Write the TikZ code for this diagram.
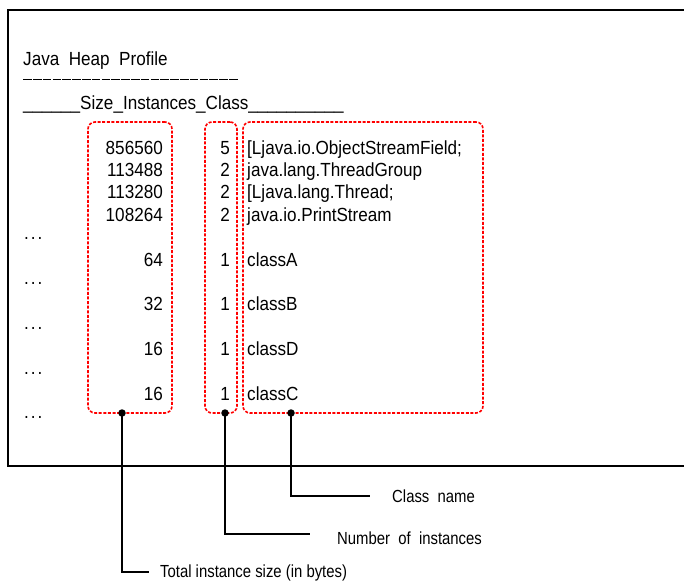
\documentclass[tikz,border=0pt]{standalone}
\usepackage{fontspec}
\setmainfont{Liberation Sans}
\newfontfamily\gfont[FakeStretch=0.9]{Liberation Sans}
\newfontfamily\lfont[FakeStretch=0.85]{Liberation Sans}
\begin{document}
\begin{tikzpicture}[x=1pt,y=-1pt,
  txt/.style={inner sep=0pt,font=\gfont\fontsize{19}{22}\selectfont},
  num/.style={txt,anchor=base east},
  cls/.style={txt,anchor=base west},
  lbl/.style={inner sep=0pt,anchor=west,font=\lfont\fontsize{17.5}{20}\selectfont},
  redbox/.style={draw=red,line width=1.6pt,dash pattern=on 3pt off 1.6pt,rounded corners=7pt,inner sep=0pt},
  frame/.style={line width=1.6pt},
  leader/.style={line width=1.5pt},
  pin/.style={circle,fill=black,inner sep=0pt,minimum size=7.5pt}]
\useasboundingbox (0,0) rectangle (684,583);
\fill[white] (0,0) rectangle (684,583);
% outer frame (open on the right)
\draw[frame] (700,10) -- (8,10) -- (8,466) -- (700,466);
% header texts
\node[cls] (title) at (23,65.5) {Java\ \ Heap\ \ Profile};
\node[inner sep=0pt,anchor=west] (rule) at (23,80) {\foreach \i in {1,...,22}{\rule[0pt]{8.6pt}{1pt}\kern1.2pt}};
\node[cls] (head) at (23,110) {\_\_\_\_\_\_Size\_Instances\_Class\_\_\_\_\_\_\_\_\_\_};
% rows
\foreach \s/\n/\c/\y [count=\k] in {856560/5/{[Ljava.io.ObjectStreamField;}/154,
  113488/2/java.lang.ThreadGroup/176,113280/2/{[Ljava.lang.Thread;}/198,108264/2/java.io.PrintStream/221,
  64/1/classA/266,32/1/classB/310,16/1/classD/355,16/1/classC/400}{
  \node[num] (s\k) at (163,\y) {\s};
  \node[num] (n\k) at (230,\y) {\n};
  \node[cls] (c\k) at (247,\y) {\c};
}
\foreach \y [count=\k] in {239,284,329,374,418}{
  \node[cls] (dots\k) at (24,\y) {.\kern2pt.\kern2pt.};
}
% red dashed boxes
\node[redbox,minimum width=84pt,minimum height=291pt] (sizebox) at (130,267.5) {};
\node[redbox,minimum width=32pt,minimum height=291pt] (numbox) at (221,267.5) {};
\node[redbox,minimum width=240pt,minimum height=291pt] (clsbox) at (363,267.5) {};
% pins
\node[pin] (p1) at (122,413) {};
\node[pin] (p2) at (225,413) {};
\node[pin] (p3) at (291,413) {};
% labels
\node[lbl] (l1) at (160,573) {Total instance size (in bytes)};
\node[lbl] (l2) at (337,538) {Number\ \ of\ \ instances};
\node[lbl] (l3) at (392,496) {Class\ \ name};
\coordinate (e1) at (149,572);
\coordinate (e2) at (310,534);
\coordinate (e3) at (370,496);
\draw[leader] (p1.center) |- (e1);
\draw[leader] (p2.center) |- (e2);
\draw[leader] (p3.center) |- (e3);
\end{tikzpicture}
\end{document}
